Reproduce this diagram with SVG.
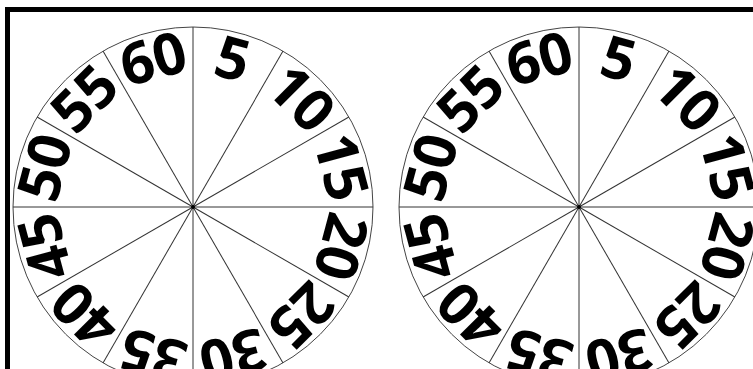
<svg xmlns="http://www.w3.org/2000/svg" width="753" height="369" viewBox="0 0 753 369">
<style>
.frame{fill:none;stroke:#000;stroke-width:5}
.rim{fill:#fff;stroke:#444;stroke-width:1}
.spoke{stroke:#333;stroke-width:1}
.lbl{font-family:"Open Sans","DejaVu Sans",sans-serif;font-weight:700;font-size:58px;text-anchor:middle;fill:#000}
</style>
<defs>
<g id="wheel">
<circle class="rim" cx="0" cy="0" r="180"/>
<g id="spokes">
<line class="spoke" x1="0" y1="0" x2="0" y2="-180"/>
<line class="spoke" x1="0" y1="0" x2="0" y2="-180" transform="rotate(30)"/>
<line class="spoke" x1="0" y1="0" x2="0" y2="-180" transform="rotate(60)"/>
<line class="spoke" x1="0" y1="0" x2="0" y2="-180" transform="rotate(90)"/>
<line class="spoke" x1="0" y1="0" x2="0" y2="-180" transform="rotate(120)"/>
<line class="spoke" x1="0" y1="0" x2="0" y2="-180" transform="rotate(150)"/>
<line class="spoke" x1="0" y1="0" x2="0" y2="-180" transform="rotate(180)"/>
<line class="spoke" x1="0" y1="0" x2="0" y2="-180" transform="rotate(210)"/>
<line class="spoke" x1="0" y1="0" x2="0" y2="-180" transform="rotate(240)"/>
<line class="spoke" x1="0" y1="0" x2="0" y2="-180" transform="rotate(270)"/>
<line class="spoke" x1="0" y1="0" x2="0" y2="-180" transform="rotate(300)"/>
<line class="spoke" x1="0" y1="0" x2="0" y2="-180" transform="rotate(330)"/>
</g>
<circle cx="0" cy="0" r="2" fill="#000"/>
<g id="labels">
<text class="lbl" transform="rotate(15) translate(0,-133)">5</text>
<text class="lbl" transform="rotate(45) translate(0,-133)">10</text>
<text class="lbl" transform="rotate(75) translate(0,-133)">15</text>
<text class="lbl" transform="rotate(105) translate(0,-133)">20</text>
<text class="lbl" transform="rotate(135) translate(0,-133)">25</text>
<text class="lbl" transform="rotate(165) translate(0,-133)">30</text>
<text class="lbl" transform="rotate(195) translate(0,-133)">35</text>
<text class="lbl" transform="rotate(225) translate(0,-133)">40</text>
<text class="lbl" transform="rotate(255) translate(0,-133)">45</text>
<text class="lbl" transform="rotate(285) translate(0,-133)">50</text>
<text class="lbl" transform="rotate(315) translate(0,-133)">55</text>
<text class="lbl" transform="rotate(345) translate(0,-133)">60</text>
</g>
</g>
</defs>
<rect width="753" height="369" fill="#fff"/>
<rect id="frame" class="frame" x="7.5" y="9.5" width="800" height="420"/>
<g id="wheel-left"><use href="#wheel" transform="translate(193,207)"/></g>
<g id="wheel-right"><use href="#wheel" transform="translate(579,207)"/></g>
</svg>
